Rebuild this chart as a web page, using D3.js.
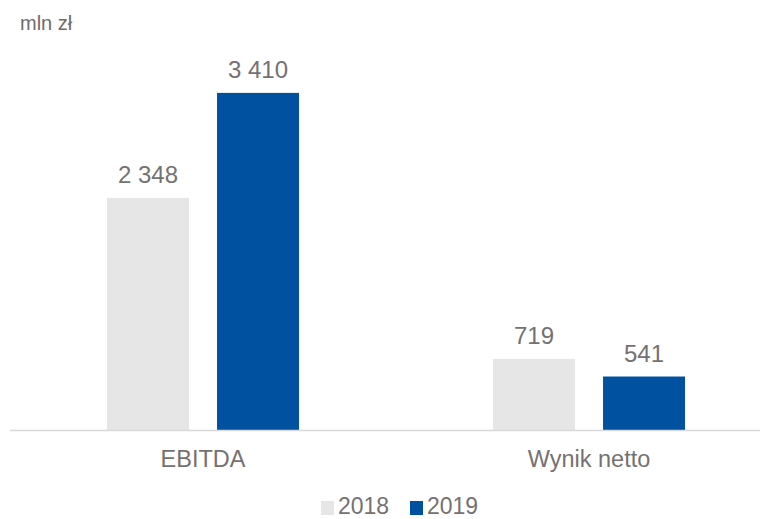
<!DOCTYPE html>
<html><head><meta charset="utf-8">
<script src="https://cdn.jsdelivr.net/npm/d3@7"></script>
<style>body{margin:0;background:#fff}svg{display:block;font-family:"Liberation Sans",Arial,sans-serif}</style>
</head><body><svg id="c" width="760" height="519"></svg>
<script>
const categories = ["EBITDA", "Wynik netto"];
const seriesNames = ["2018", "2019"];
const values2018 = [2348, 719];
const values2019 = [3410, 541];
const valueLabels2018 = ["2 348", "719"];
const valueLabels2019 = ["3 410", "541"];
const unitLabel = "mln zł";

const colors = ["#e7e6e6", "#0052a1"];
const textColor = "#767171";
const svg = d3.select("#c");
const base = 430;

const x = d3.scaleBand().domain(categories).range([10, 782]).paddingInner(0).paddingOuter(0);
const inner = d3.scaleBand().domain(seriesNames).range([97, 289]).paddingInner(0.255);
const y = d3.scaleLinear().domain([0, 3500]).range([base, 84]);

const data = categories.map((c, i) => ({
  cat: c,
  vals: [
    {s: "2018", v: values2018[i], l: valueLabels2018[i]},
    {s: "2019", v: values2019[i], l: valueLabels2019[i]}
  ]
}));

svg.append("text").attr("x", 20).attr("y", 30).attr("font-size", 20).attr("fill", "#6f6b6b").text(unitLabel);

const g = svg.selectAll("g.cat").data(data).enter().append("g")
  .attr("transform", d => `translate(${x(d.cat)},0)`);
g.selectAll("rect").data(d => d.vals).enter().append("rect")
  .attr("x", d => inner(d.s)).attr("width", inner.bandwidth())
  .attr("y", d => y(d.v)).attr("height", d => y(0) - y(d.v))
  .attr("fill", (d, i) => colors[i]);
g.selectAll("text.v").data(d => d.vals).enter().append("text")
  .attr("class", "v")
  .attr("x", d => inner(d.s) + inner.bandwidth() / 2)
  .attr("y", d => y(d.v) - 15)
  .attr("text-anchor", "middle").attr("font-size", 24).attr("fill", textColor)
  .text(d => d.l);

svg.append("line").attr("x1", 10).attr("x2", 760).attr("y1", base + 0.5).attr("y2", base + 0.5)
  .attr("stroke", "#d9d9d9").attr("stroke-width", 1.5);

svg.selectAll("text.cat").data(categories).enter().append("text")
  .attr("x", d => x(d) + x.bandwidth() / 2).attr("y", 467)
  .attr("text-anchor", "middle").attr("font-size", 23.5).attr("fill", textColor).text(d => d);

const leg = svg.selectAll("g.leg").data(seriesNames).enter().append("g")
  .attr("transform", (d, i) => `translate(${321 + i * 89},0)`);
leg.append("rect").attr("x", 0).attr("y", 501).attr("width", 13).attr("height", 14).attr("fill", (d, i) => colors[i]);
leg.append("text").attr("x", 17).attr("y", 514).attr("font-size", 23).attr("fill", textColor).text(d => d);
</script></body></html>
